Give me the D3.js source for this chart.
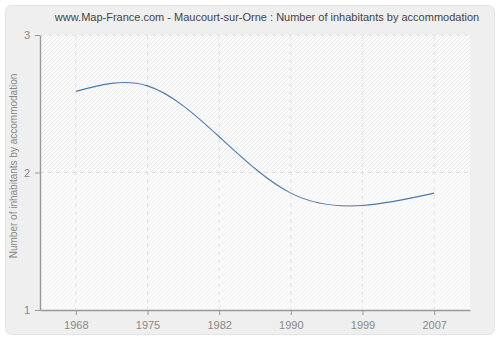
<!DOCTYPE html>
<html>
<head>
<meta charset="utf-8">
<script src="https://cdn.jsdelivr.net/npm/d3@7"></script>
<style>
  html, body { margin: 0; padding: 0; background: #ffffff; }
  svg { display: block; font-family: "Liberation Sans", Arial, sans-serif; }
</style>
</head>
<body>
<svg id="chart" width="500" height="340"></svg>
<script>
// Average household size for Maucourt-sur-Orne, census years
const years = ["1968", "1975", "1982", "1990", "1999", "2007"];
const inhabitantsPerHome = [2.59, 2.63, 2.26, 1.85, 1.76, 1.85];
const yTicks = [1, 2, 3];
const title = "www.Map-France.com - Maucourt-sur-Orne : Number of inhabitants by accommodation";
const yLabel = "Number of inhabitants by accommodation";

const svg = d3.select("#chart");
const W = 500, H = 340;
const m = { left: 40, right: 30, top: 35, bottom: 30 };
const plotW = W - m.left - m.right, plotH = H - m.top - m.bottom;
const FONT = "\"Liberation Sans\", Arial, sans-serif";

// Outer panel
svg.append("rect").attr("x", 0).attr("y", 0).attr("width", W).attr("height", H).attr("fill", "#ffffff");
svg.append("rect")
  .attr("x", 5.5).attr("y", 5.5).attr("width", 489).attr("height", 329)
  .attr("rx", 6).attr("fill", "#efefef").attr("stroke", "#e4e4e4");

// Hatched fills for the plot background
const defs = svg.append("defs");
function hatch(id, bg, line) {
  const p = defs.append("pattern").attr("id", id)
    .attr("patternUnits", "userSpaceOnUse").attr("width", 4).attr("height", 4);
  p.append("rect").attr("width", 4).attr("height", 4).attr("fill", bg);
  p.append("path").attr("d", "M-1,1 l2,-2 M0,4 l4,-4 M3,5 l2,-2")
    .attr("stroke", line).attr("stroke-width", 0.8);
}
hatch("hatchTop", "#fbfbfb", "#e7e7e7");
hatch("hatchBottom", "#fbfbfb", "#f0f0f0");

const x = d3.scalePoint().domain(years).range([0, plotW]).padding(0.5);
const y = d3.scaleLinear().domain([1, 3]).range([plotH, 0]);

const g = svg.append("g").attr("transform", `translate(${m.left},${m.top})`);

g.append("rect").attr("x", 0).attr("y", 0).attr("width", plotW).attr("height", y(2))
  .attr("fill", "url(#hatchTop)");
g.append("rect").attr("x", 0).attr("y", y(2)).attr("width", plotW).attr("height", plotH - y(2))
  .attr("fill", "url(#hatchBottom)");

// Dashed grid
g.append("g").selectAll("line").data(years).join("line")
  .attr("x1", d => x(d)).attr("x2", d => x(d)).attr("y1", 0).attr("y2", plotH)
  .attr("stroke", "#e2e2e2").attr("stroke-dasharray", "4,4");
g.append("g").selectAll("line").data(yTicks.slice(1)).join("line")
  .attr("x1", 0).attr("x2", plotW).attr("y1", d => y(d)).attr("y2", d => y(d))
  .attr("stroke", "#e2e2e2").attr("stroke-dasharray", "4,4");

// Axes
const xAxis = g.append("g").attr("transform", `translate(0,${plotH})`)
  .call(d3.axisBottom(x).tickSize(5).tickSizeOuter(0).tickPadding(6));
const yAxis = g.append("g")
  .call(d3.axisLeft(y).tickValues(yTicks).tickFormat(d3.format("d")).tickSize(5).tickSizeOuter(0).tickPadding(5));
[xAxis, yAxis].forEach(a => {
  a.select(".domain").attr("stroke", "#999").attr("stroke-width", 1.4);
  a.selectAll(".tick line").attr("stroke", "#999");
  a.selectAll(".tick text").attr("fill", "#888").attr("font-size", 11)
    .attr("font-family", FONT);
});

// Series line
const line = d3.line()
  .x((d, i) => x(years[i]))
  .y(d => y(d))
  .curve(d3.curveNatural);
g.append("path").datum(inhabitantsPerHome)
  .attr("d", line).attr("fill", "none")
  .attr("stroke", "#4a79ac").attr("stroke-width", 1.1);

// Title and axis label
svg.append("text").attr("x", 267).attr("y", 21).attr("text-anchor", "middle")
  .attr("font-family", FONT).attr("font-size", 11).attr("fill", "#444").text(title);
svg.append("text")
  .attr("transform", `translate(17,166) rotate(-90)`)
  .attr("text-anchor", "middle").attr("font-family", FONT)
  .attr("font-size", 10).attr("fill", "#888")
  .text(yLabel);
</script>
</body>
</html>
